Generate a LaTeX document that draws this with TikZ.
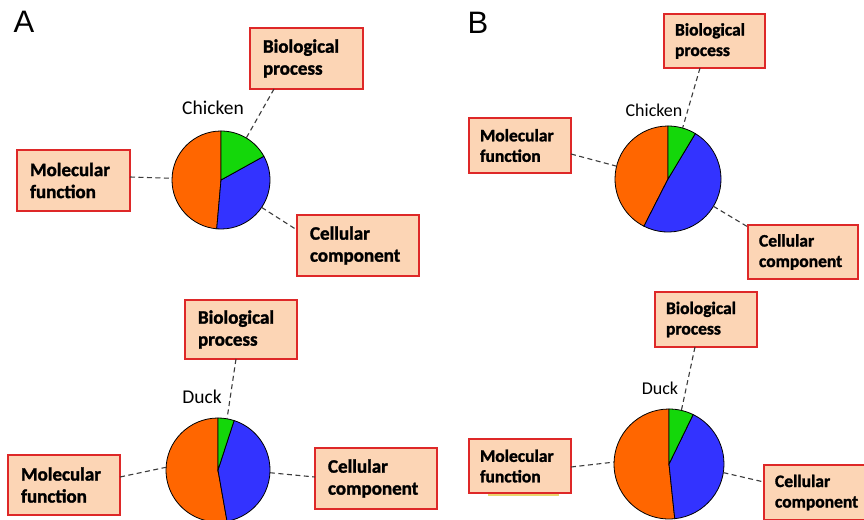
\documentclass[tikz,border=0pt]{standalone}
\usepackage{fontspec}
\setmainfont{Carlito}[BoldFeatures={FakeBold=1.5}]
\newfontfamily\labelfont{Liberation Sans}
\usetikzlibrary{calc}
\definecolor{boxfill}{RGB}{252,213,181}
\definecolor{boxred}{RGB}{222,40,40}
\definecolor{linegray}{RGB}{60,60,60}
\definecolor{pieorange}{RGB}{255,102,0}
\definecolor{pieblue}{RGB}{51,51,255}
\definecolor{piegreen}{RGB}{20,215,10}
\definecolor{smear}{RGB}{232,214,110}
\tikzset{
  gobox/.style={draw=boxred, line width=1.3pt, fill=boxfill, align=left, anchor=north west, inner ysep=0pt, outer sep=0pt},
  fa/.style={font=\bfseries\fontsize{19}{22}\selectfont, inner xsep=13pt},
  fb/.style={font=\bfseries\fontsize{17.5}{20.5}\selectfont, inner xsep=11pt},
  link/.style={draw=linegray, line width=1.1pt, dash pattern=on 5pt off 3.5pt},
  speciesA/.style={font=\fontsize{19.5}{22}\selectfont, inner sep=0pt},
  speciesB/.style={font=\fontsize{18}{20}\selectfont, inner sep=0pt},
  panel/.style={font=\labelfont\fontsize{31}{31}\selectfont, inner sep=0pt},
  pieline/.style={draw=black, line width=0.8pt},
  piebase/.style={circle, inner sep=0pt, outer sep=0pt},
}
% #1 node name, #2 radius, #3 green/blue boundary angle, #4 blue/orange boundary angle (negative)
\newcommand\gopie[4]{%
  \begin{scope}[shift={(#1.center)}, x=1pt, y=1pt]
    \filldraw[pieline, fill=pieorange] (0,0) -- (90:#2) arc[start angle=90, end angle={360+#4}, radius=#2] -- cycle;
    \filldraw[pieline, fill=pieblue] (0,0) -- (#4:#2) arc[start angle=#4, end angle=#3, radius=#2] -- cycle;
    \filldraw[pieline, fill=piegreen] (0,0) -- (#3:#2) arc[start angle=#3, end angle=90, radius=#2] -- cycle;
  \end{scope}}
\begin{document}
\begin{tikzpicture}[x=1pt, y=-1pt]
\clip (0,0) rectangle (864,519);
\fill[white] (0,0) rectangle (864,519);

% Panel labels
\node[panel] (labA) at (24,22) {A};
\node[panel] (labB) at (478,23) {B};

% ---------- Panel A, chicken ----------
\node[gobox, fa, text width=87pt, minimum height=61pt] (bpA1) at (250,28) {Biological\\process};
\node[gobox, fa, text width=87pt, minimum height=61pt] (mfA1) at (17,150) {Molecular\\function};
\node[gobox, fa, text width=96pt, minimum height=61pt] (ccA1) at (297,215) {Cellular\\component};
\node[speciesA] (chA) at (213,108) {Chicken};
\node[piebase, minimum size=98pt] (pieA1) at (221,180) {};
\gopie{pieA1}{49}{29}{-95}
\draw[link] ($(bpA1.south west)+(24,0)$) -- (pieA1.59);
\draw[link] ($(mfA1.north east)+(0,27)$) -- (pieA1.178);
\draw[link] (pieA1.-34) -- ($(ccA1.north west)+(0,15)$);

% ---------- Panel A, duck ----------
\node[gobox, fa, text width=86pt, minimum height=59pt] (bpA2) at (185,300) {Biological\\process};
\node[gobox, fa, text width=86pt, minimum height=60pt] (mfA2) at (8,455) {Molecular\\function};
\node[gobox, fa, text width=96pt, minimum height=61pt] (ccA2) at (315,448) {Cellular\\component};
\node[speciesA] (dkA) at (202,397) {Duck};
\node[piebase, minimum size=104pt] (pieA2) at (218,470) {};
\gopie{pieA2}{52}{72}{-80}
\draw[link] ($(bpA2.south west)+(51,0)$) -- (pieA2.80);
\draw[link] ($(mfA2.north east)+(0,22)$) -- (pieA2.177);
\draw[link] (pieA2.-3) -- ($(ccA2.north west)+(0,29)$);

% ---------- Panel B, chicken ----------
\node[gobox, fb, text width=79pt, minimum height=54pt] (bpB1) at (664,14) {Biological\\process};
\node[gobox, fb, text width=80pt, minimum height=55pt] (mfB1) at (469,118) {Molecular\\function};
\node[gobox, fb, text width=88pt, minimum height=54pt] (ccB1) at (748,225) {Cellular\\component};
\node[speciesB] (chB) at (654,110) {Chicken};
\node[piebase, minimum size=106pt] (pieB1) at (668,179) {};
\gopie{pieB1}{53}{59}{-117}
\draw[link] ($(bpB1.south west)+(36,0)$) -- (pieB1.74);
\draw[link] ($(mfB1.north east)+(0,36)$) -- (pieB1.166);
\draw[link] (pieB1.-31) -- ($(ccB1.north west)+(0,2)$);

% ---------- Panel B, duck ----------
\node[gobox, fb, text width=80pt, minimum height=55pt] (bpB2) at (655,292) {Biological\\process};
\node[gobox, fb, text width=80pt, minimum height=54pt] (mfB2) at (469,439) {Molecular\\function};
\node[gobox, fb, text width=88pt, minimum height=55pt] (ccB2) at (764,465) {Cellular\\component};
\node[speciesB] (dkB) at (660,388) {Duck};
\node[piebase, minimum size=110pt] (pieB2) at (669,464) {};
\gopie{pieB2}{55}{64}{-84}
\draw[link] ($(bpB2.south west)+(40,0)$) -- (pieB2.77);
\draw[link] ($(mfB2.north east)+(0,28)$) -- (pieB2.178);
\draw[link] (pieB2.-9) -- ($(ccB2.north west)+(0,17)$);
\draw[smear, line width=1.2pt] ($(mfB2.south west)+(19,2)$) -- ($(mfB2.south west)+(90,2)$);
\end{tikzpicture}
\end{document}
